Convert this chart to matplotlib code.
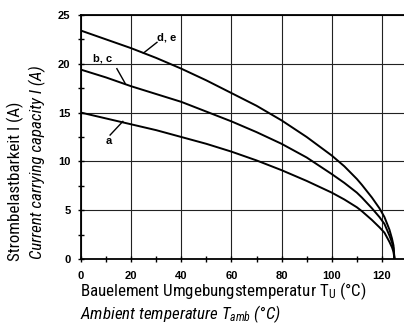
import matplotlib
matplotlib.use("Agg")
import matplotlib.pyplot as plt
from matplotlib import font_manager
from matplotlib.ticker import MultipleLocator

# curves (ambient temperature in degC, current in A)
temp = [0, 10, 20, 30, 40, 50, 60, 70, 80, 90, 100, 105, 110, 112, 116,
        119, 121, 123, 124, 124.6, 125]
cur_de = [23.4, 22.5, 21.6, 20.6, 19.5, 18.3, 17.0, 15.7, 14.2, 12.5, 10.6,
          9.5, 8.2, 7.6, 6.3, 5.2, 4.3, 3.0, 2.1, 1.4, 0.0]
cur_bc = [19.4, 18.6, 17.7, 16.9, 16.1, 15.1, 14.1, 13.0, 11.8, 10.4, 8.7,
          7.8, 6.8, 6.3, 5.2, 4.3, 3.6, 2.4, 1.7, 1.1, 0.0]
cur_a = [15.0, 14.4, 13.8, 13.2, 12.5, 11.8, 11.0, 10.1, 9.1, 8.0, 6.8,
         6.1, 5.3, 4.9, 4.0, 3.25, 2.7, 1.75, 1.2, 0.75, 0.0]

xticks = [0, 20, 40, 60, 80, 100, 120]
yticks = [0, 5, 10, 15, 20, 25]

have = {f.name for f in font_manager.fontManager.ttflist}
narrow = next((n for n in ["Roboto Condensed", "Archivo Narrow", "Fira Sans Condensed"]
               if n in have), "DejaVu Sans")
plt.rcParams["mathtext.fontset"] = "custom"
plt.rcParams["mathtext.rm"] = narrow
plt.rcParams["mathtext.it"] = narrow + ":italic"

fig = plt.figure(figsize=(4.04, 3.28), dpi=100)
ax = fig.add_axes([81 / 404, 1 - 259 / 328, 1 - 81 / 404, (259 - 15) / 328])

for c in (cur_de, cur_bc, cur_a):
    ax.plot(temp, c, color="black", lw=1.4)

ax.set_xlim(0, 128.8)
ax.set_ylim(0, 25)
ax.set_xticks(xticks)
ax.set_yticks(yticks)
ax.xaxis.set_minor_locator(MultipleLocator(10))
ax.yaxis.set_minor_locator(MultipleLocator(2.5))
ax.grid(True, which="major", color="#222222", lw=0.8)
ax.set_axisbelow(True)
ax.spines["right"].set_visible(False)
for s in ["top", "left", "bottom"]:
    ax.spines[s].set_linewidth(1.3)
ax.tick_params(which="major", direction="inout", length=5, width=1,
               labelsize=8, pad=5)
ax.tick_params(axis="x", which="major", pad=6)
ax.tick_params(which="minor", direction="inout", length=4, width=1)
for lab in ax.get_xticklabels() + ax.get_yticklabels():
    lab.set_family("Liberation Sans")
    lab.set_weight("bold")

# curve labels with leader lines
lab_font = dict(family="Liberation Sans", fontsize=8, weight="bold", color="black")
ax.text(30.3, 22.7, "d, e", ha="left", va="center", **lab_font)
ax.plot([30.3, 24.9], [22.2, 21.1], color="black", lw=1)
ax.text(4.8, 20.5, "b, c", ha="left", va="center", **lab_font)
ax.plot([14.3, 17.6], [19.5, 18.0], color="black", lw=1)
ax.text(10.0, 12.1, "a", ha="left", va="center", **lab_font)
ax.plot([11.6, 16.7], [12.7, 14.1], color="black", lw=1)

# axis titles
fs = 12.2
fig.text(80 / 404, 1 - 296 / 328, r"Bauelement Umgebungstemperatur T$_\mathrm{U}$ (°C)",
         family=narrow, fontsize=fs, ha="left", va="baseline")
fig.text(80 / 404, 1 - 319 / 328, r"Ambient temperature T$_\mathit{amb}$ (°C)",
         family=narrow, fontsize=fs, style="italic", ha="left", va="baseline")
fig.text(15 / 404, 1 - 261 / 328, "Strombelastbarkeit I (A)", family=narrow,
         fontsize=fs, rotation=90, rotation_mode="anchor", ha="left", va="center")
fig.text(37 / 404, 1 - 259 / 328, "Current carrying capacity I (A)", family=narrow,
         fontsize=fs, style="italic", rotation=90, rotation_mode="anchor",
         ha="left", va="center")

fig.savefig("out.png", dpi=100)
